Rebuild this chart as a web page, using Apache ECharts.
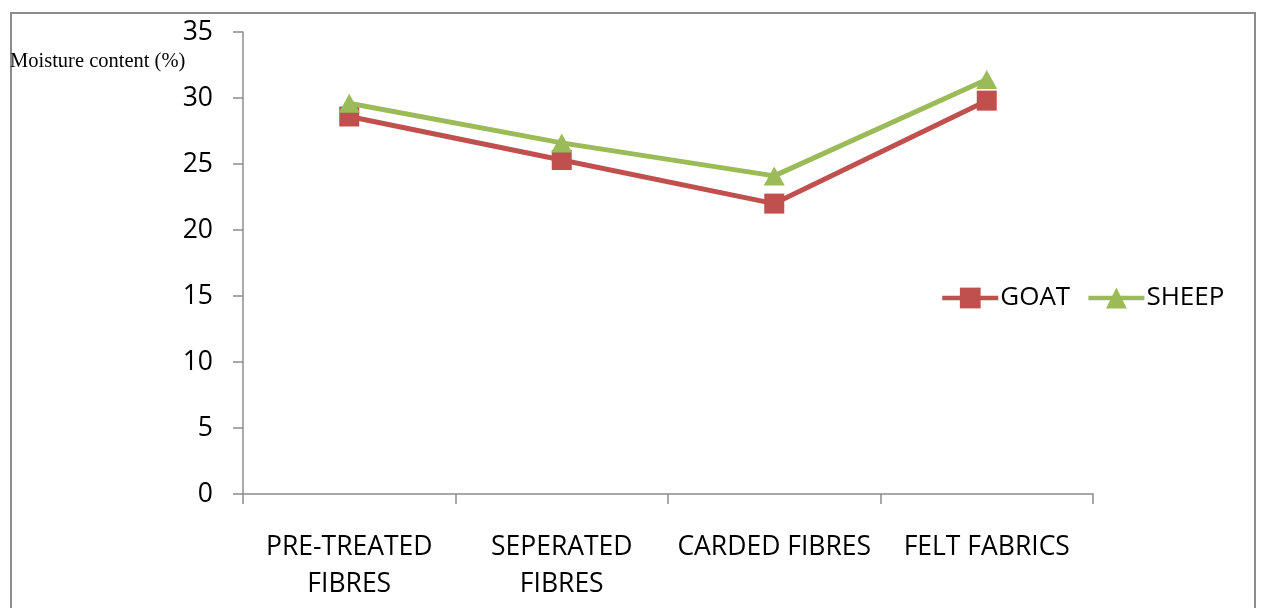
<!DOCTYPE html>
<html>
<head>
<meta charset="utf-8">
<script src="https://cdn.jsdelivr.net/npm/echarts@6/dist/echarts.min.js"></script>
<style>
html,body{margin:0;padding:0;background:#fff;}
#frame{position:absolute;left:10px;top:12px;width:1246px;height:620px;border:2px solid #8c8c8c;box-sizing:border-box;}
#chart{position:absolute;left:0;top:0;width:1261px;height:608px;}
</style>
</head>
<body>
<div id="frame"></div>
<div id="chart"></div>
<script>
const categories = ['PRE-TREATED\nFIBRES', 'SEPERATED\nFIBRES', 'CARDED FIBRES', 'FELT FABRICS'];
const goat = [28.6, 25.3, 22.0, 29.8];
const sheep = [29.6, 26.6, 24.1, 31.4];
const yTicks = [0, 5, 10, 15, 20, 25, 30, 35];

const chart = echarts.init(document.getElementById('chart'));
const font = "'Open Sans', sans-serif";
chart.setOption({
  animation: false,
  grid: {left: 243, right: 168, top: 32, bottom: 114, containLabel: false},
  legend: {
    orient: 'horizontal',
    left: 935, top: 280,
    itemWidth: 56, itemHeight: 26, itemGap: 16,
    lineStyle: {width: 4.5},
    textStyle: {fontFamily: font, fontSize: 26, color: '#000', padding: [0,0,0,-3]},
    data: ['GOAT', 'SHEEP']
  },
  graphic: [{
    type: 'text', left: 10, top: 51,
    style: {text: 'Moisture content (%)', font: "20.5px 'Liberation Serif', serif", fill: '#000'}
  }],
  xAxis: {
    type: 'category', data: categories, boundaryGap: true,
    axisLine: {lineStyle: {color: '#8c8c8c', width: 1.5}},
    axisTick: {show: true, length: 10, lineStyle: {color: '#8c8c8c', width: 1.5}},
    axisLabel: {fontFamily: font, fontSize: 26.5, color: '#000', margin: 35, lineHeight: 37, interval: 0}
  },
  yAxis: {
    type: 'value', min: 0, max: 35, interval: 5,
    axisLine: {show: true, lineStyle: {color: '#8c8c8c', width: 1.5}},
    axisTick: {show: true, length: 10, lineStyle: {color: '#8c8c8c', width: 1.5}},
    splitLine: {show: false},
    axisLabel: {fontFamily: font, fontSize: 26.5, color: '#000', margin: 30,
      formatter: v => yTicks.includes(v) ? String(v) : ''}
  },
  series: [
    {name: 'GOAT', type: 'line', data: goat, symbol: 'rect', symbolSize: 20,
     lineStyle: {color: '#c0504d', width: 5}, itemStyle: {color: '#c0504d'}, z: 2},
    {name: 'SHEEP', type: 'line', data: sheep, symbol: 'triangle', symbolSize: [21, 19],
     lineStyle: {color: '#9bbb59', width: 5}, itemStyle: {color: '#9bbb59'}, z: 3}
  ]
});
</script>
</body>
</html>
